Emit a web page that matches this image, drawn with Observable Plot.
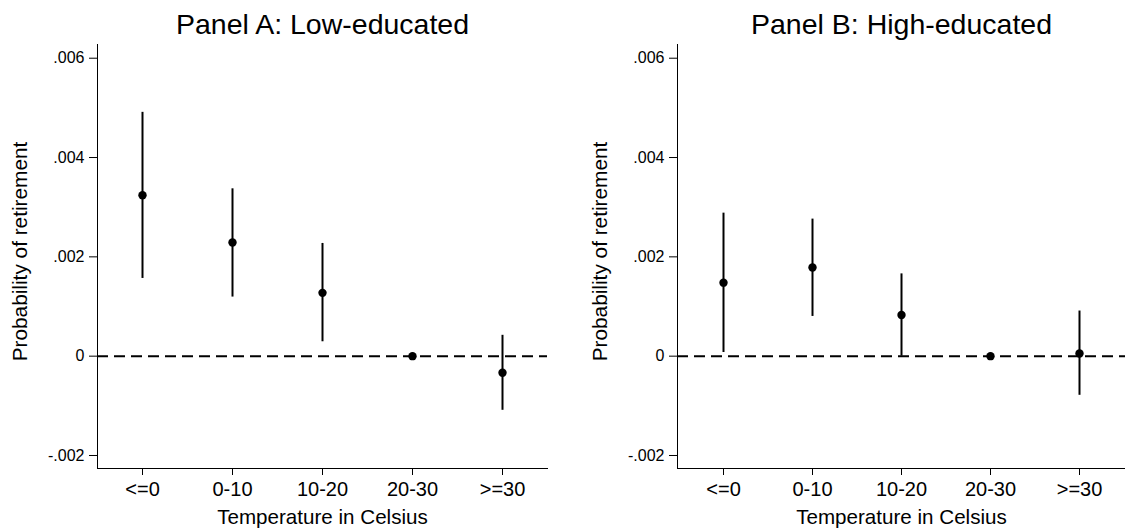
<!DOCTYPE html>
<html>
<head>
<meta charset="utf-8">
<script src="https://cdn.jsdelivr.net/npm/d3@7"></script>
<script src="https://cdn.jsdelivr.net/npm/@observablehq/plot@0.6"></script>
<style>
  body { margin: 0; background: #fff; }
  #chart { display: flex; align-items: flex-start; width: 1125px; height: 531px; overflow: hidden; }
  #chart svg { display: block; flex: none; }
</style>
</head>
<body>
<div id="chart"></div>
<script>
// Temperature bins (reference bin 20-30 has no interval)
const categories = ["<=0", "0-10", "10-20", "20-30", ">=30"];

// Panel A: low-educated — point estimates and 95% CI bounds
const lowEst = [0.00324, 0.00229, 0.001275, 0, -0.000335];
const lowLo  = [0.001565, 0.00119, 0.00029, null, -0.00109];
const lowHi  = [0.00491, 0.00337, 0.00227, null, 0.00042];

// Panel B: high-educated — point estimates and 95% CI bounds
const highEst = [0.00148, 0.001785, 0.00083, 0, 0.000054];
const highLo  = [0.000074, 0.0008, 0.0, null, -0.000788];
const highHi  = [0.00288, 0.00276, 0.001657, null, 0.000909];

// Shared y axis
const yTicks = [-0.002, 0, 0.002, 0.004, 0.006];
const yDomain = [-0.002262, 0.006276];

const font = "'Liberation Sans', Arial, Helvetica, sans-serif";

// Stata-style numbers: ".006", "0", "-.002"
function stataNum(d) {
  if (d === 0) return "0";
  return d.toFixed(3).replace(/^(-?)0\./, "$1.");
}

function panel(title, est, lo, hi, width, marginRight) {
  const rows = categories.map((c, i) => ({cat: c, est: est[i], lo: lo[i], hi: hi[i]}));
  const ci = rows.filter(r => r.lo != null && r.hi != null);
  return Plot.plot({
    width,
    height: 531,
    marginLeft: 97,
    marginRight,
    marginTop: 44,
    marginBottom: 63,
    style: {fontFamily: font, fontSize: "16px", color: "#000", background: "#fff", overflow: "visible"},
    x: {type: "point", domain: categories, padding: 0.5},
    y: {domain: yDomain},
    marks: [
      Plot.ruleY([0], {strokeDasharray: "11,6", strokeWidth: 2}),
      Plot.frame({anchor: "left"}),
      Plot.frame({anchor: "bottom"}),
      Plot.axisY({ticks: yTicks, tickFormat: stataNum, tickSize: 8, tickPadding: 5, fontSize: 16, label: null}),
      Plot.axisX({tickSize: 7, tickPadding: 6, fontSize: 20, label: null}),
      Plot.ruleX(ci, {x: "cat", y1: "lo", y2: "hi", strokeWidth: 2}),
      Plot.dot(rows, {x: "cat", y: "est", r: 4.2, fill: "#000"}),
      Plot.text([title], {frameAnchor: "top", lineAnchor: "bottom", dy: -11, fontSize: 28.5}),
      Plot.text(["Probability of retirement"], {frameAnchor: "left", textAnchor: "middle", rotate: -90, lineAnchor: "bottom", dx: -70.5, dy: -5, fontSize: 20.8}),
      Plot.text(["Temperature in Celsius"], {frameAnchor: "bottom", lineAnchor: "bottom", dy: 55, fontSize: 20.6})
    ]
  });
}

const chart = document.getElementById("chart");
chart.append(panel("Panel A: Low-educated", lowEst, lowLo, lowHi, 580, 33));
chart.append(panel("Panel B: High-educated", highEst, highLo, highHi, 545, 0));
</script>
</body>
</html>
